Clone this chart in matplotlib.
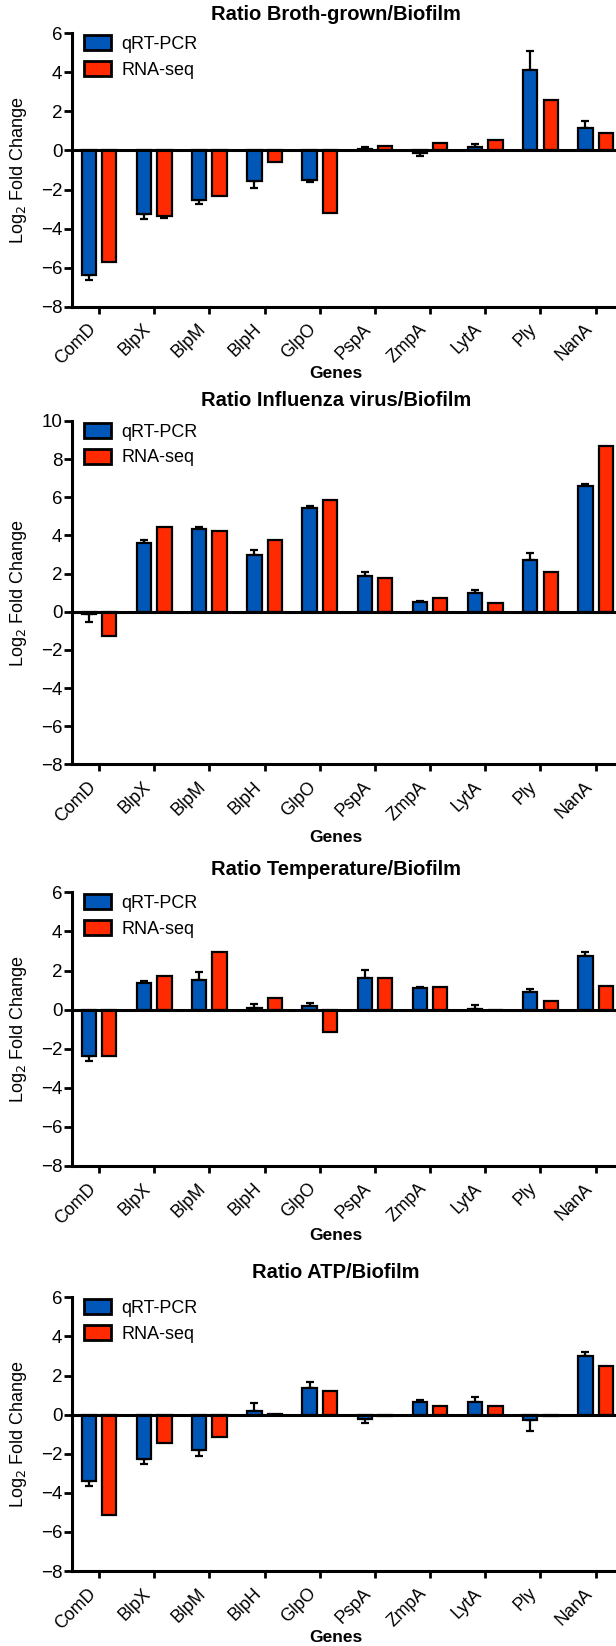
import numpy as np
import matplotlib
matplotlib.use("Agg")
import matplotlib.pyplot as plt

plt.rcParams['font.family'] = ['Liberation Sans', 'DejaVu Sans']

genes = ["ComD", "BlpX", "BlpM", "BlpH", "GlpO", "PspA", "ZmpA", "LytA", "Ply", "NanA"]
series_names = ["qRT-PCR", "RNA-seq"]

titles = ["Ratio Broth-grown/Biofilm", "Ratio Influenza virus/Biofilm",
          "Ratio Temperature/Biofilm", "Ratio ATP/Biofilm"]

broth_qpcr = [-6.40, -3.23, -2.54, -1.57, -1.49, 0.10, -0.12, 0.19, 4.11, 1.14]
broth_qpcr_err = [0.26, 0.30, 0.21, 0.36, 0.11, 0.07, 0.17, 0.12, 1.01, 0.36]
broth_rnaseq = [-5.69, -3.38, -2.34, -0.60, -3.19, 0.22, 0.38, 0.56, 2.61, 0.89]
broth_rnaseq_err = [0, 0.08, 0, 0, 0, 0, 0, 0, 0, 0]

flu_qpcr = [-0.14, 3.58, 4.32, 2.99, 5.44, 1.85, 0.49, 1.00, 2.69, 6.57]
flu_qpcr_err = [0.38, 0.18, 0.12, 0.23, 0.08, 0.25, 0.05, 0.12, 0.37, 0.14]
flu_rnaseq = [-1.28, 4.46, 4.23, 3.76, 5.84, 1.78, 0.72, 0.44, 2.06, 8.70]
flu_rnaseq_err = [0, 0, 0, 0, 0, 0, 0, 0, 0, 0]

temp_qpcr = [-2.35, 1.36, 1.52, 0.09, 0.17, 1.60, 1.11, 0.05, 0.90, 2.76]
temp_qpcr_err = [0.29, 0.11, 0.41, 0.18, 0.15, 0.41, 0.03, 0.19, 0.14, 0.19]
temp_rnaseq = [-2.39, 1.71, 2.95, 0.58, -1.16, 1.62, 1.14, 0.0, 0.43, 1.19]
temp_rnaseq_err = [0, 0, 0, 0, 0, 0, 0, 0, 0, 0]

atp_qpcr = [-3.41, -2.25, -1.81, 0.19, 1.36, -0.20, 0.67, 0.65, -0.27, 2.98]
atp_qpcr_err = [0.26, 0.27, 0.30, 0.39, 0.31, 0.23, 0.06, 0.27, 0.57, 0.23]
atp_rnaseq = [-5.13, -1.47, -1.13, 0.05, 1.23, -0.08, 0.43, 0.44, -0.08, 2.47]
atp_rnaseq_err = [0, 0, 0, 0, 0, 0, 0, 0, 0, 0]

ylims = [(-8, 6), (-8, 10), (-8, 6), (-8, 6)]

panels = [
    (broth_qpcr, broth_qpcr_err, broth_rnaseq, broth_rnaseq_err),
    (flu_qpcr, flu_qpcr_err, flu_rnaseq, flu_rnaseq_err),
    (temp_qpcr, temp_qpcr_err, temp_rnaseq, temp_rnaseq_err),
    (atp_qpcr, atp_qpcr_err, atp_rnaseq, atp_rnaseq_err),
]

BLUE = "#0057B8"
RED = "#FF2A00"

W, H = 616, 1646
fig = plt.figure(figsize=(W / 100, H / 100), dpi=100)

# pixel layout: (top, bottom) of plot area, title y, xlabel y
layout = [
    (33.4, 306.6, 15, 374),
    (421.0, 764.3, 401, 838),
    (892.3, 1166.0, 869, 1235),
    (1297.3, 1571.0, 1272, 1638),
]
LEFT, RIGHT = 72, 626
XCENTER = 336

x = np.arange(len(genes))
bw = 0.26
off = 0.185


def draw_errors(ax, xpos, vals, errs):
    vals = np.asarray(vals, float)
    errs = np.asarray(errs, float)
    m = errs > 0
    if not m.any():
        return
    lower = np.where(vals < 0, errs, 0)
    upper = np.where(vals >= 0, errs, 0)
    ax.errorbar(xpos[m], vals[m], yerr=[lower[m], upper[m]], fmt='none',
                ecolor='black', elinewidth=1.6, capsize=3.2, capthick=1.6, zorder=2)


for i, ((q, qe, r, re), (top, bot, ty, gy)) in enumerate(zip(panels, layout)):
    ax = fig.add_axes([LEFT / W, 1 - bot / H, (RIGHT - LEFT) / W, (bot - top) / H])
    draw_errors(ax, x - off, q, qe)
    draw_errors(ax, x + off, r, re)
    ax.bar(x - off, q, bw, color=BLUE, edgecolor='black', linewidth=1.6,
           label=series_names[0], zorder=3)
    ax.bar(x + off, r, bw, color=RED, edgecolor='black', linewidth=1.6,
           label=series_names[1], zorder=3)
    ax.axhline(0, color='black', linewidth=2.2, zorder=4)
    ax.set_xlim(-0.49, 9.55)
    lo, hi = ylims[i]
    ax.set_ylim(lo, hi)
    ax.set_yticks(np.arange(lo, hi + 1, 2))
    ax.set_xticks(x)
    ax.set_xticklabels(genes, rotation=45, ha='right', fontsize=12.8)
    ax.tick_params(axis='y', labelsize=13.5, width=2, length=6, pad=1)
    ax.tick_params(axis='x', width=2, length=5, pad=5)
    for s in ['top', 'right']:
        ax.spines[s].set_visible(False)
    for s in ['left', 'bottom']:
        ax.spines[s].set_linewidth(2.2)
    leg = ax.legend(loc='upper left', bbox_to_anchor=(10 / (RIGHT - LEFT), 1.0),
                    frameon=False, fontsize=13, handlelength=1.5, handleheight=0.9,
                    handletextpad=0.6, labelspacing=0.45, borderaxespad=0.0,
                    borderpad=0.1)
    for p in leg.get_patches():
        p.set_linewidth(2.0)
    fig.text(XCENTER / W, 1 - ty / H, titles[i], ha='center', va='center',
             fontsize=14.5, fontweight='bold')
    fig.text(XCENTER / W, 1 - gy / H, "Genes", ha='center', va='center',
             fontsize=12.5, fontweight='bold')
    fig.text(19 / W, 1 - (top + bot) / 2 / H, "Log$_2$ Fold Change", rotation=90,
             ha='center', va='center', fontsize=13)

fig.savefig("out.png", dpi=100)
